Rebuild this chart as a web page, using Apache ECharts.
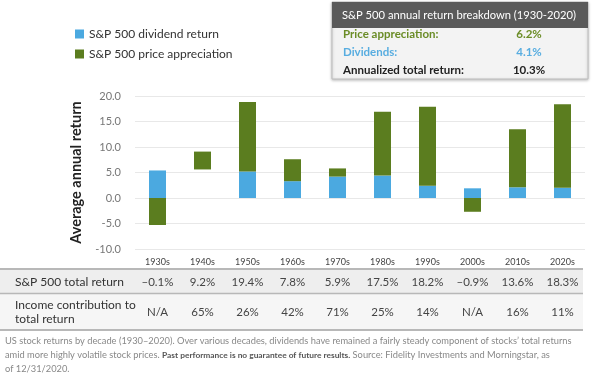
<!DOCTYPE html>
<html lang="en">
<head>
    <meta charset="UTF-8">
    <title>S&amp;P 500 returns by decade</title>
    <style>
        html, body { margin: 0; padding: 0; background: #fff; }
        #chart { width: 600px; height: 376px; }
    </style>
    <script src="https://cdn.jsdelivr.net/npm/echarts@6/dist/echarts.min.js"></script>
</head>
<body>
    <div id="chart"></div>
    <script>
      // decades on the x axis
      var decades = ['1930s', '1940s', '1950s', '1960s', '1970s', '1980s', '1990s', '2000s', '2010s', '2020s'];
      // average annual return parts
      var dividendReturn = [5.4, 5.6, 5.2, 3.3, 4.2, 4.4, 2.4, 1.9, 2.1, 2.0];
      var priceAppreciation = [-5.3, 3.5, 13.6, 4.3, 1.6, 12.5, 15.5, -2.7, 11.4, 16.4];
      // table rows under the chart
      var totalReturn = ['\u20130.1%', '9.2%', '19.4%', '7.8%', '5.9%', '17.5%', '18.2%', '\u20130.9%', '13.6%', '18.3%'];
      var incomeShare = ['N/A', '65%', '26%', '42%', '71%', '25%', '14%', 'N/A', '16%', '11%'];
      // summary box
      var breakdownLabels = ['Price appreciation:', 'Dividends:', 'Annualized total return:'];
      var breakdownValues = ['6.2%', '4.1%', '10.3%'];

      var BLUE = '#4ba9e0';
      var GREEN = '#5b7d1f';
      var FONT = 'Lato, "Open Sans", sans-serif';

      var chart = echarts.init(document.getElementById('chart'));

      // 1940s has no blue bar in the original
      var divData = dividendReturn.map(function (v, i) {
        return i === 1 ? { value: v, itemStyle: { color: 'transparent' } } : v;
      });

      chart.setOption({
        animation: false,
        textStyle: { fontFamily: FONT },
        grid: { left: 135, right: 15, top: 96, bottom: 127 },
        legend: {
          orient: 'vertical',
          left: 70,
          top: 23,
          icon: 'rect',
          itemWidth: 9,
          itemHeight: 9,
          itemGap: 8,
          textStyle: { fontSize: 12, color: '#333', fontFamily: FONT },
          data: ['S&P 500 dividend return', 'S&P 500 price appreciation']
        },
        xAxis: {
          type: 'category',
          data: decades,
          axisLine: { show: false },
          axisTick: { show: false },
          axisLabel: { fontSize: 9, color: '#444', margin: 9 }
        },
        yAxis: {
          type: 'value',
          min: -10,
          max: 20,
          interval: 5,
          name: 'Average annual return',
          nameLocation: 'middle',
          nameGap: 51,
          nameTextStyle: { fontSize: 14.5, fontWeight: 'bold', color: '#222' },
          axisLabel: {
            fontSize: 11, color: '#777', margin: 14,
            formatter: function (v) { return v.toFixed(1); }
          },
          splitLine: { lineStyle: { color: '#e8e8e8' } }
        },
        series: [
          {
            name: 'S&P 500 dividend return',
            type: 'bar',
            stack: 'ret',
            barWidth: 17,
            itemStyle: { color: BLUE },
            data: divData
          },
          {
            name: 'S&P 500 price appreciation',
            type: 'bar',
            stack: 'ret',
            barWidth: 17,
            itemStyle: { color: GREEN },
            data: priceAppreciation
          }
        ]
      });

      // box + table, columns placed on the category axis positions
      var g = [];
      // summary box
      g.push({ type: 'rect', shape: { x: 332, y: 2, width: 256, height: 77 },
        style: { fill: '#f3f3f3', stroke: '#bdbdbd', lineWidth: 1, shadowBlur: 3, shadowColor: 'rgba(0,0,0,0.25)', shadowOffsetY: 1 } });
      g.push({ type: 'rect', shape: { x: 332, y: 2, width: 256, height: 26 }, style: { fill: '#5a5a5a' } });
      g.push({ type: 'text', x: 342, y: 15, style: { text: 'S&P 500 annual return breakdown (1930-2020)', fill: '#fff', font: '11.2px ' + FONT, textVerticalAlign: 'middle' } });
      var boxColors = ['#6a8c26', '#58ade0', '#222'];
      var rowY = [34, 52, 70];
      breakdownLabels.forEach(function (t, i) {
        g.push({ type: 'text', x: 343, y: rowY[i], style: { text: t, fill: boxColors[i], font: 'bold 11.5px ' + FONT, textVerticalAlign: 'middle' } });
        g.push({ type: 'text', x: 529, y: rowY[i], style: { text: breakdownValues[i], fill: boxColors[i], font: 'bold 11.5px ' + FONT, textAlign: 'center', textVerticalAlign: 'middle' } });
      });

      // table
      g.push({ type: 'rect', shape: { x: 0, y: 270, width: 583, height: 23 }, style: { fill: '#eeeeee' } });
      g.push({ type: 'rect', shape: { x: 0, y: 294, width: 583, height: 36 }, style: { fill: '#f6f6f6' } });
      [269, 293.5, 330].forEach(function (y, i) {
        g.push({ type: 'line', shape: { x1: 0, y1: y, x2: 583, y2: y }, style: { stroke: '#b8b8b8', lineWidth: i === 1 ? 1.5 : 2 } });
      });
      g.push({ type: 'text', x: 15, y: 282, style: { text: 'S&P 500 total return', fill: '#333', font: '12px ' + FONT, textVerticalAlign: 'middle' } });
      g.push({ type: 'text', x: 15, y: 312, style: { text: 'Income contribution to\ntotal return', fill: '#333', font: '12px ' + FONT, lineHeight: 14, textVerticalAlign: 'middle' } });
      decades.forEach(function (d, i) {
        var x = chart.convertToPixel({ xAxisIndex: 0 }, d);
        g.push({ type: 'text', x: x, y: 282, style: { text: totalReturn[i], fill: '#444', font: '11.5px ' + FONT, textAlign: 'center', textVerticalAlign: 'middle' } });
        g.push({ type: 'text', x: x, y: 312, style: { text: incomeShare[i], fill: '#444', font: '11.5px ' + FONT, textAlign: 'center', textVerticalAlign: 'middle' } });
      });

      // footnote
      g.push({ type: 'text', x: 5, y: 334, style: {
        text: 'US stock returns by decade (1930\u20132020). Over various decades, dividends have remained a fairly steady component of stocks\u2019 total returns\n' +
              'amid more highly volatile stock prices. {b|Past performance is no guarantee of future results.} Source: Fidelity Investments and Morningstar, as\n' +
              'of 12/31/2020.',
        fill: '#888', font: '9.3px ' + FONT, lineHeight: 14,
        rich: { b: { fill: '#555', fontWeight: 'bold', fontSize: 8.4, fontFamily: 'Lato' } }
      } });

      chart.setOption({ graphic: g });
    </script>
</body>
</html>
